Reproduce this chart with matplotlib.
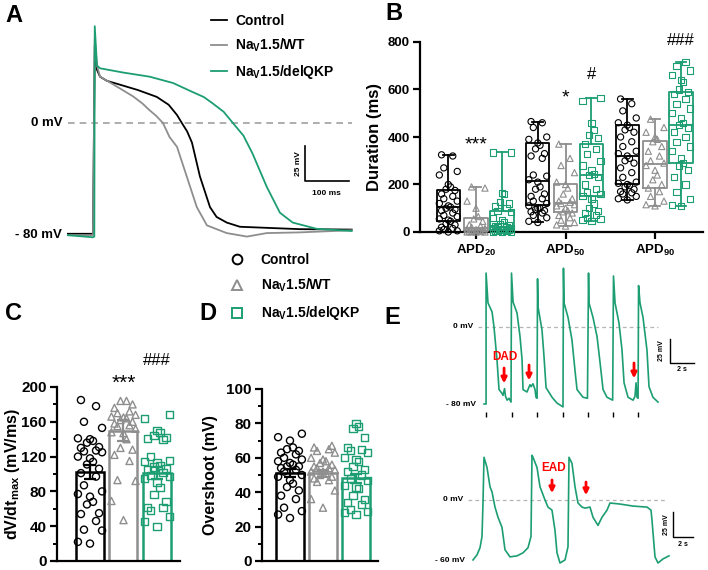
import matplotlib.pyplot as plt
from matplotlib.lines import Line2D
import numpy as np

plt.rcParams['font.family'] = ['Liberation Sans', 'DejaVu Sans']
plt.rcParams['font.weight'] = 'bold'
plt.rcParams['axes.labelweight'] = 'bold'
plt.rcParams['mathtext.fontset'] = 'custom'
plt.rcParams['mathtext.rm'] = 'Liberation Sans'
plt.rcParams['mathtext.bf'] = 'Liberation Sans:bold'
plt.rcParams['mathtext.it'] = 'Liberation Sans:italic'

BLACK = '#000000'
GRAY = '#8e8e8e'
GREEN = '#1c9e72'

labels = ['Control', 'Na$_\\mathbf{V}$1.5/WT', 'Na$_\\mathbf{V}$1.5/delQKP']
colors = [BLACK, GRAY, GREEN]
markers = ['o', '^', 's']

# --- A: action potential traces (ms, mV) ---
ctrl_t = [-59, -2, 2, 7, 14, 30, 52, 100, 143, 170, 189, 200, 212, 223, 241, 264, 279, 302,
          332, 468, 586]
ctrl_v = [-79, -79, 55, 38, 33, 30, 28, 23.5, 18.6, 13, 5.7, 0, -6, -14, -38, -60, -67, -71,
          -74, -75.7, -76]
wt_t = [-59, -2, 2, 7, 14, 36, 60, 89, 110, 127, 142, 157, 172, 189, 211, 234, 257, 302, 348,
        393, 468, 586]
wt_v = [-80, -80, 60, 41, 33, 29, 24.5, 19, 14, 9, 5, 0, -10, -17, -38, -60, -73, -78.5, -81,
        -78.5, -78, -76.5]
del_t = [-59, -2, 1, 2, 7, 14, 66, 127, 180, 225, 250, 270, 295, 316, 340, 361, 393, 423, 452,
         507, 586]
del_v = [-80, -81.5, -81, 69, 41, 39, 36, 33, 28.5, 22, 18.5, 14, 8, 0, -9, -22, -45.5, -64,
         -71, -75.5, -77]

# --- B: APD box plots ---
apd_groups = ['$\\mathbf{APD}_{20}$', '$\\mathbf{APD}_{50}$', '$\\mathbf{APD}_{90}$']
apd_ctrl = [
    [325, 320, 270, 255, 240, 200, 190, 180, 175, 160, 150, 140, 130, 120, 110, 105, 100,
     95, 90, 80, 70, 65, 55, 50, 45, 35, 30, 20, 15, 10, 5, 5, 0],
    [465, 460, 440, 400, 390, 375, 365, 350, 330, 320, 310, 240, 235, 220, 210, 190, 180,
     160, 150, 140, 130, 120, 110, 100, 100, 95, 90, 85, 80, 70, 60, 45, 40],
    [560, 540, 510, 480, 460, 450, 440, 430, 420, 400, 380, 360, 340, 330, 320, 310, 300,
     290, 270, 250, 230, 210, 205, 200, 195, 190, 180, 170, 165, 160, 150, 140, 135],
]
apd_wt = [
    [190, 185, 130, 100, 65, 55, 45, 30, 25, 20, 15, 12, 10, 8, 5, 5, 3, 2, 0, 0, 0, 0],
    [370, 310, 280, 250, 210, 200, 185, 160, 140, 130, 125, 120, 115, 110, 100, 90, 85,
     80, 70, 60, 50, 40, 30, 25],
    [475, 440, 420, 400, 390, 380, 360, 340, 320, 300, 290, 280, 260, 240, 220, 200, 185,
     170, 150, 130, 115, 110],
]
apd_del = [
    [335, 335, 165, 160, 125, 120, 110, 100, 90, 85, 60, 50, 40, 35, 30, 25, 20, 20, 15,
     15, 12, 10, 10, 8, 5, 5, 3, 0, 0, 0],
    [565, 550, 460, 430, 410, 395, 370, 350, 330, 300, 280, 260, 245, 240, 230, 200, 180,
     170, 160, 150, 140, 120, 100, 90, 80, 70, 60, 55, 50, 45],
    [715, 700, 680, 660, 640, 630, 600, 590, 580, 560, 540, 520, 500, 480, 460, 450, 440,
     420, 400, 380, 360, 340, 310, 290, 280, 260, 230, 200, 170, 140, 115, 110],
]
# box summaries: (low, q1, median, q3, high)
box_ctrl = [(0, 46, 105, 177, 325), (40, 115, 215, 375, 465), (135, 200, 320, 450, 560)]
box_wt = [(0, 3, 15, 60, 190), (25, 85, 120, 200, 370), (110, 185, 285, 385, 475)]
box_del = [(0, 5, 20, 90, 335), (45, 150, 240, 370, 565), (110, 290, 450, 590, 715)]

# --- C: dV/dt max ---
dvdt_ctrl = [185, 178, 160, 153, 141, 140, 138, 136, 131, 130, 127, 126, 125, 120, 118, 114,
             111, 106, 101, 97, 87, 80, 77, 74, 68, 65, 55, 54, 46, 36, 35, 22, 20]
dvdt_wt = [184, 184, 180, 176, 172, 170, 168, 166, 165, 164, 162, 160, 158, 156, 155, 152,
           148, 147, 140, 130, 128, 122, 115, 93, 92, 69, 47]
dvdt_del = [168, 164, 150, 148, 144, 142, 141, 140, 120, 116, 114, 113, 110, 108, 106, 105,
            102, 98, 97, 95, 90, 85, 76, 68, 62, 62, 58, 51, 45, 40]
dvdt_mean = [102, 150, 101]
dvdt_sem = [8, 12, 7]

# --- D: overshoot ---
os_ctrl = [74, 72, 70, 66, 65, 64, 63, 62, 60, 59, 58, 57, 56, 55, 55, 54, 53, 52, 50, 49,
           47, 45, 43, 41, 38, 36, 31, 29, 27, 25]
os_wt = [67, 66, 65, 64, 63, 60, 59, 58, 57, 56, 55, 54, 54, 53, 52, 52, 51, 50, 49, 48,
         47, 46, 41, 36, 31]
os_del = [80, 78, 77, 72, 66, 65, 64, 63, 60, 59, 58, 55, 53, 52, 50, 48, 47, 44, 43, 42,
          38, 36, 34, 33, 30, 29, 28, 27]
os_mean = [51, 51, 48]
os_sem = [2.2, 2.0, 2.6]

# --- E: arrhythmic traces (s, mV) ---
dad_t = [0, 0.17, 0.17, 0.33, 0.67, 0.83, 1.08, 1.25, 1.5, 1.58, 1.71, 1.79, 1.92, 2.08, 2.25,
         2.29, 2.42, 2.75, 3.0, 3.17, 3.25, 3.58, 3.83, 3.92, 4.08, 4.25, 4.33, 4.42,
         4.46, 4.5, 4.83, 5.0, 5.17, 5.67, 6.08, 6.58,
         6.62, 6.67, 7.0, 7.33, 7.58, 7.75, 8.25, 8.62,
         8.71, 8.75, 9.08, 9.42, 9.67, 9.92, 10.25, 10.72,
         10.79, 10.92, 11.25, 11.5, 11.67, 12.0, 12.42, 12.58, 12.67, 12.75, 12.84,
         12.88, 13.0, 13.25, 13.58, 13.75, 14.08, 14.5]
dad_v = [-80, -80, 56, 25, 15.6, 0, -34, -65, -69, -71, -64, -72, -76, -74, -78,
         56, 26, 14.5, -10, -34, -65, -67.5, -60, -62, -59, -65, -73, -74,
         50, 21, -3, -31, -63, -73, -79, -83,
         61, 25, 10, -13.5, -45, -65, -73, -74,
         56, 25, 10, -10, -37, -65, -73, -76,
         53, 25, 4, -24, -58, -73, -76, -72, -58, -73, -74,
         43, 25, 10, -24, -62, -73, -78]
stim_t = [0.17, 2.33, 4.42, 6.58, 8.67, 10.75, 12.83]
ead_t = [0, 0.4, 0.7, 0.9, 1.0, 1.1, 1.4, 1.7, 1.9, 2.2, 2.5, 2.9, 3.2, 3.7, 4.4, 5.0, 5.5,
         5.8, 5.9, 6.0, 6.4, 6.7, 7.2, 7.5, 7.9, 8.2, 8.4, 8.7, 9.2, 9.5, 9.6, 9.9, 10.2,
         10.5, 10.9, 11.2, 11.7, 12.0, 12.5, 12.9, 13.4, 13.7, 14.7, 16.0, 17.4, 17.8,
         17.9, 18.2, 18.5, 19.0, 19.6]
ead_v = [-59, -54, -47, -36, -3, 42, 32, 13, 8, -7, -17, -27, -49, -56, -55, -52, -47,
         -36, 44, 42, 32, 13, 0, -7, -10, -30, -52, -62, -59, -46, 42, 36, 13,
         -3, -7, -8, -7, -17, -25, -17, -10, -3, -4, -6, -7, -10,
         -20, -56, -62, -58, -55]

W, H = 708, 570
fig = plt.figure(figsize=(W / 100, H / 100), dpi=100)


def px_axes(x0, y0, x1, y1):
    return fig.add_axes([x0 / W, 1 - y1 / H, (x1 - x0) / W, (y1 - y0) / H])


def spread(vals, half):
    pattern = np.array([0, -1, 1, -0.5, 0.5, -0.75, 0.75, -0.25, 0.25])
    order = np.argsort(vals)
    off = np.zeros(len(vals))
    off[order] = pattern[np.arange(len(vals)) % len(pattern)] * half
    return off


def style_axis(ax, size):
    for s in ['top', 'right']:
        ax.spines[s].set_visible(False)
    for s in ['left', 'bottom']:
        ax.spines[s].set_linewidth(1.6)
    ax.tick_params(width=1.6, length=5, labelsize=size, pad=2.5)
    ax.tick_params(which='minor', width=1.4, length=3)
    for lbl in ax.get_yticklabels() + ax.get_xticklabels():
        lbl.set_fontweight('bold')


# ---------- A ----------
axA = px_axes(60, 15, 360, 245)
axA.set_xlim(-77, 605)
axA.set_ylim(-87, 77)
axA.axis('off')
axA.plot([-59, 586], [0, 0], ls=(0, (4, 3)), color='#a0a0a0', lw=1.2)
lA = []
for t, v, c in zip([ctrl_t, wt_t, del_t], [ctrl_v, wt_v, del_v], colors):
    lA += axA.plot(t, v, color=c, lw=1.3)
axA.text(-72, 0, '0 mV', ha='right', va='center', fontsize=9.5)
axA.text(-72, -80, '- 80 mV', ha='right', va='center', fontsize=9.5)
axA.plot([479.5, 479.5, 579.5], [-16.4, -41.4, -41.4], color='k', lw=1.2)
axA.text(465, -29, '25 mV', rotation=90, ha='center', va='center', fontsize=6)
axA.text(529.5, -47.5, '100 ms', ha='center', va='top', fontsize=6)
fig.legend(lA, labels, loc='upper left', bbox_to_anchor=(211 / W, 1 - 14 / H),
           frameon=False, fontsize=10, handlelength=1.15, handletextpad=0.6,
           labelspacing=0.62, borderpad=0, borderaxespad=0)

# ---------- B ----------
axB = px_axes(420, 42, 703, 232)
offs = [-0.31, 0.0, 0.29]
for k, (pts, boxes, c, m) in enumerate(zip([apd_ctrl, apd_wt, apd_del],
                                           [box_ctrl, box_wt, box_del], colors, markers)):
    pos = [g + offs[k] for g in range(3)]
    stats = [dict(whislo=b[0], q1=b[1], med=b[2], q3=b[3], whishi=b[4]) for b in boxes]
    lp = dict(color=c, lw=1.3)
    axB.bxp(stats, positions=pos, widths=0.26, capwidths=0.12, showfliers=False,
            boxprops=lp, medianprops=lp, whiskerprops=lp, capprops=lp, manage_ticks=False)
    for g in range(3):
        axB.scatter(pos[g] + spread(pts[g], 0.1), pts[g], s=20, marker=m,
                    facecolors='none', edgecolors=c, linewidths=0.8, zorder=3, clip_on=False)
axB.set_xlim(-0.626, 2.536)
axB.set_ylim(0, 800)
axB.set_xticks(range(3))
axB.set_xticklabels(apd_groups, fontsize=10.5)
axB.set_yticks(range(0, 801, 200))
style_axis(axB, 9.5)
axB.set_ylabel('Duration (ms)', fontsize=12)
axB.yaxis.set_label_coords(-0.135, 0.5)
axB.text(0, 368, '***', ha='center', va='center', fontsize=14, fontweight='normal')
axB.text(1, 566, '*', ha='center', va='center', fontsize=14, fontweight='normal')
axB.text(1 + offs[2], 665, '#', ha='center', va='center', fontsize=12, fontweight='normal')
axB.text(2 + offs[2], 808, '###', ha='center', va='center', fontsize=12, fontweight='normal')


# ---------- C and D ----------
def bar_panel(ax, pts_list, means, sems, ymax, major, minor, ylabel, spacing_px):
    half = 0.36
    for i, (pts, c, m) in enumerate(zip(pts_list, colors, markers)):
        ax.bar(i, means[i], width=28 / spacing_px, facecolor='white', edgecolor=c,
               lw=1.8, zorder=1)
        ax.errorbar(i, means[i], yerr=sems[i], fmt='none', ecolor=c, elinewidth=1.6,
                    capsize=4.5, capthick=1.6, zorder=4)
        ax.scatter(i + spread(pts, half), pts, s=26, marker=m, facecolors='none',
                   edgecolors=c, linewidths=1.0, zorder=3, clip_on=False)
    ax.set_ylim(0, ymax)
    ax.set_yticks(np.arange(0, ymax + 1, major))
    ax.set_yticks(np.arange(0, ymax + 1, minor), minor=True)
    ax.set_xticks([])
    style_axis(ax, 11)
    ax.set_ylabel(ylabel, fontsize=11.5)


axC = px_axes(57, 387, 180, 561)
bar_panel(axC, [dvdt_ctrl, dvdt_wt, dvdt_del], dvdt_mean, dvdt_sem, 200, 40, 20,
          'dV/dt$_\\mathbf{max}$ (mV/ms)', 33.5)
axC.set_xlim(-0.985, 2.687)
axC.yaxis.set_label_coords(-0.285, 0.5)
axC.text(1, 204, '***', ha='center', va='center', fontsize=15, fontweight='normal')
axC.text(2, 230, '###', ha='center', va='center', fontsize=12, fontweight='normal')

axD = px_axes(262, 389, 378, 561)
bar_panel(axD, [os_ctrl, os_wt, os_del], os_mean, os_sem, 100, 20, 10,
          'Overshoot (mV)', 33)
axD.set_xlim(-0.848, 2.667)
axD.yaxis.set_label_coords(-0.38, 0.5)

# middle legend
hs = [Line2D([], [], ls='none', marker=m, mfc='none', mec=c, ms=7, mew=1.4)
      for m, c in zip(markers, colors)]
fig.legend(hs, labels, loc='upper left', bbox_to_anchor=(230 / W, 1 - 253 / H),
           frameon=False, fontsize=10, handlelength=1.0, handletextpad=1.2,
           labelspacing=0.72, borderpad=0, borderaxespad=0)

# ---------- E ----------
axE1 = px_axes(440, 262, 700, 420)
axE1.set_xlim(-3.67, 18)
axE1.set_ylim(-96.6, 67.5)
axE1.axis('off')
axE1.plot([-0.5, 14.5], [0, 0], ls=(0, (3, 2.5)), color='#b4b4b4', lw=0.9)
axE1.plot(dad_t, dad_v, color=GREEN, lw=1.2)
axE1.vlines(stim_t, -93.5, -88.3, color='k', lw=1.0)
axE1.text(-0.9, 0, '0 mV', ha='right', va='center', fontsize=6)
axE1.text(-0.7, -80, '- 80 mV', ha='right', va='center', fontsize=6)
axE1.text(1.75, -31, 'DAD', color='red', ha='center', va='center', fontsize=8.5)
for t0, v0 in [(1.67, -42.6), (3.75, -39.5), (12.5, -37.4)]:
    axE1.annotate('', xy=(t0, v0 - 16), xytext=(t0, v0),
                  arrowprops=dict(arrowstyle='-|>', color='red', lw=2, mutation_scale=8,
                                  shrinkA=0, shrinkB=0))
axE1.plot([15.5, 15.5, 17.5], [-12.4, -37.4, -37.4], color='k', lw=1.0)
axE1.text(14.8, -25, '25 mV', rotation=90, ha='center', va='center', fontsize=5)
axE1.text(16.5, -41, '2 s', ha='center', va='top', fontsize=5)

axE2 = px_axes(430, 445, 700, 570)
axE2.set_xlim(-4.3, 22.7)
axE2.set_ylim(-68.9, 54.1)
axE2.axis('off')
axE2.plot([-0.5, 19.4], [0, 0], ls=(0, (3, 2.5)), color='#b4b4b4', lw=0.9)
axE2.plot(ead_t, ead_v, color=GREEN, lw=1.2)
axE2.text(-1.0, 0, '0 mV', ha='right', va='center', fontsize=6)
axE2.text(-0.8, -60, '- 60 mV', ha='right', va='center', fontsize=6)
axE2.text(8.1, 31.5, 'EAD', color='red', ha='center', va='center', fontsize=8.5)
for t0, v0 in [(7.9, 19.7), (11.3, 17.7)]:
    axE2.annotate('', xy=(t0, v0 - 13), xytext=(t0, v0),
                  arrowprops=dict(arrowstyle='-|>', color='red', lw=2, mutation_scale=8,
                                  shrinkA=0, shrinkB=0))
axE2.plot([20, 20, 22], [-11.4, -36.4, -36.4], color='k', lw=1.0)
axE2.text(19.3, -24, '25 mV', rotation=90, ha='center', va='center', fontsize=5)
axE2.text(21, -40, '2 s', ha='center', va='top', fontsize=5)

# panel letters
for letter, x, y in [('A', 14, 15), ('B', 394, 13), ('C', 13, 313), ('D', 208, 313),
                     ('E', 392, 318)]:
    fig.text(x / W, 1 - y / H, letter, ha='center', va='center', fontsize=17,
             fontweight='bold')

fig.savefig('out.png', dpi=100)
